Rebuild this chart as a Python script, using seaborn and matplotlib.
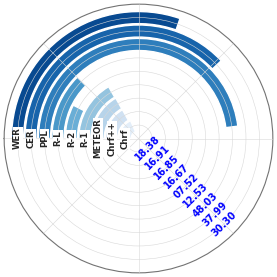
import numpy as np
import matplotlib.pyplot as plt
import seaborn as sns

# metrics from innermost ring to outermost ring
metrics = ['Chrf', 'Chrf++', 'METEOR', 'R-1', 'R-2', 'R-L', 'PPL', 'CER', 'WER']
scores = [18.38, 16.91, 16.85, 16.67, 7.52, 12.53, 48.03, 37.99, 30.30]
score_labels = ['18.38', '16.91', '16.85', '16.67', '07.52', '12.53', '48.03', '37.99', '30.30']
full_ring = 100

sns.set_style('white')
colors = sns.color_palette('Blues', len(metrics))

fig = plt.figure(figsize=(2.77, 2.77), dpi=100)
ax = fig.add_axes([0.015, 0.015, 0.97, 0.97], polar=True)
ax.set_theta_zero_location('W')
ax.set_theta_direction(-1)

pos = np.arange(1, len(metrics) + 1)
ax.barh(pos, np.array(scores) * 2 * np.pi / full_ring, left=0, height=0.9, color=colors)

ax.set_ylim(0, 10)
ax.set_yticks(range(1, 10))
ax.set_yticklabels([])
ax.set_xticks(np.radians(range(0, 360, 45)))
ax.set_xticklabels([])
ax.grid(True, color='#d8d8d8', linewidth=0.4)
ax.set_axisbelow(False)
ax.spines['polar'].set_color('0.45')
ax.spines['polar'].set_linewidth(0.8)

for p, m, s in zip(pos, metrics, score_labels):
    ax.text(0, p, m, rotation=90, ha='center', va='center', fontsize=6.2,
            fontweight='bold', bbox=dict(facecolor='white', edgecolor='none', pad=0.3))
    ax.text(np.radians(225), p, s, rotation=45, ha='center', va='center',
            fontsize=6.9, fontweight='bold', color='blue')

fig.savefig('out.png', dpi=100)
